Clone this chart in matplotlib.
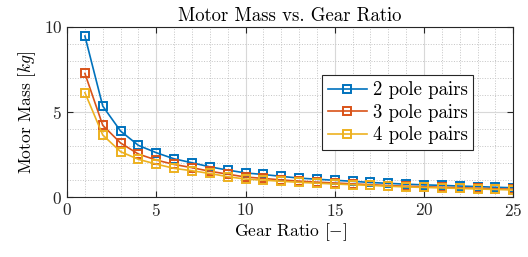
import matplotlib as mpl
mpl.use('Agg')
from matplotlib import pyplot as plt
from matplotlib.ticker import MultipleLocator
import numpy as np

# gear ratio
ratio = np.arange(1, 26)

# motor mass [kg]
mass_2pp = [9.47, 5.35, 3.88, 3.04, 2.61, 2.25, 2.02, 1.78, 1.59, 1.42,
            1.33, 1.22, 1.12, 1.05, 0.99, 0.93, 0.86, 0.81, 0.76, 0.72,
            0.69, 0.65, 0.62, 0.58, 0.55]
mass_3pp = [7.27, 4.22, 3.18, 2.53, 2.18, 1.92, 1.73, 1.52, 1.35, 1.18,
            1.10, 1.01, 0.94, 0.88, 0.83, 0.78, 0.73, 0.68, 0.64, 0.61,
            0.58, 0.55, 0.52, 0.49, 0.46]
mass_4pp = [6.14, 3.65, 2.67, 2.22, 1.94, 1.69, 1.55, 1.39, 1.20, 1.06,
            1.00, 0.93, 0.87, 0.82, 0.77, 0.73, 0.69, 0.64, 0.60, 0.57,
            0.54, 0.51, 0.48, 0.45, 0.42]
labels = ['2 pole pairs', '3 pole pairs', '4 pole pairs']
colors = ['#0072BD', '#D95319', '#EDB120']

mpl.rcParams.update({
    "font.family": "serif",
    "font.serif": ["cmr10"],
    "mathtext.fontset": "cm",
    "axes.formatter.use_mathtext": True,
    "font.size": 11,
})

fig = plt.figure(figsize=(5.28, 2.57), dpi=100)
ax = fig.add_axes([0.127, 0.233, 0.845, 0.662])

for m, lab, c in zip([mass_2pp, mass_3pp, mass_4pp], labels, colors):
    ax.plot(ratio, m, '-s', color=c, mfc='none', mec=c, ms=5.5, mew=1.4,
            lw=1.2, label=lab)

ax.set_xlim(0, 25)
ax.set_ylim(0, 10)
ax.xaxis.set_major_locator(MultipleLocator(5))
ax.yaxis.set_major_locator(MultipleLocator(5))
ax.xaxis.set_minor_locator(MultipleLocator(1))
ax.yaxis.set_minor_locator(MultipleLocator(1))
ax.grid(which='major', color='#d8d8d8', lw=0.8, ls='-')
ax.grid(which='minor', color='#c4c4c4', lw=0.7, ls=':')
ax.set_axisbelow(True)
ax.tick_params(which='both', direction='in', colors='#262626', labelsize=12.5)
ax.tick_params(which='minor', length=0)
ax.tick_params(which='major', length=4, top=True, right=True)
for s in ax.spines.values():
    s.set_color('#262626')
    s.set_linewidth(0.8)

ax.set_title('Motor Mass vs. Gear Ratio', fontsize=13.5, pad=4)
ax.set_xlabel(r'Gear Ratio [$-$]', fontsize=12.5, labelpad=2)
ax.set_ylabel(r'Motor Mass [$kg$]', fontsize=12.5, labelpad=4)

leg = ax.legend(loc='upper right', bbox_to_anchor=(0.91, 0.715), fontsize=13.5,
                fancybox=False, edgecolor='#262626', framealpha=1,
                borderpad=0.3, labelspacing=0.25, handlelength=2.1,
                handletextpad=0.3, borderaxespad=0)
leg.get_frame().set_linewidth(0.8)

fig.savefig('out.png', dpi=100)
